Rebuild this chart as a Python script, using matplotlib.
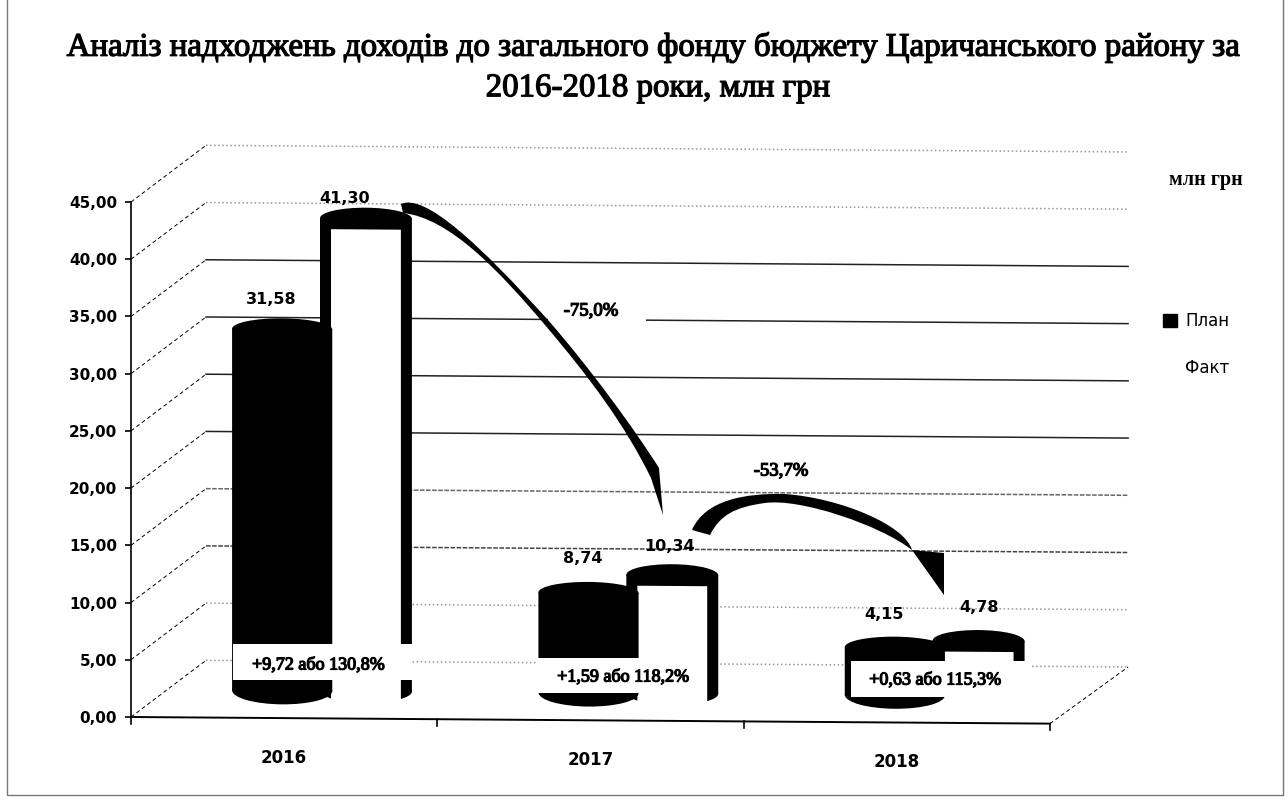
import numpy as np
import matplotlib
matplotlib.use("Agg")
import matplotlib.pyplot as plt
import matplotlib.patheffects as pe
from matplotlib.patches import Ellipse, PathPatch, Rectangle, Patch
from matplotlib.path import Path
from matplotlib.transforms import Affine2D

years = ["2016", "2017", "2018"]
plan = [31.58, 8.74, 4.15]
fact = [41.30, 10.34, 4.78]
plan_labels = ["31,58", "8,74", "4,15"]
fact_labels = ["41,30", "10,34", "4,78"]
diff_labels = ["+9,72 або 130,8%", "+1,59 або 118,2%", "+0,63 або 115,3%"]
yticks = [0, 5, 10, 15, 20, 25, 30, 35, 40, 45]

W, H = 1288, 801
X0, X1, Y0, Y45 = 131, 1050, 717, 202
SERIF = "Liberation Serif"
SANS = "DejaVu Sans"

fig = plt.figure(figsize=(W / 100, H / 100), dpi=100, facecolor="white")
ax = fig.add_axes([X0 / W, 1 - Y0 / H, (X1 - X0) / W, (Y0 - Y45) / H])
ax.set_xlim(0, 3)
ax.set_ylim(0, 45)
ax.patch.set_visible(False)

# scan is slightly tilted, everything inside the plot runs downhill to the right
k = 0.0072
sheared = ax.transData + Affine2D.from_values(1, -k, 0, 1, 0, k * X0)
# screen pixels, y going down, for things placed by hand
pix = Affine2D().scale(1, -1).translate(0, H)
thick = [pe.withStroke(linewidth=0.9, foreground="black")]

for s in ["top", "right", "bottom"]:
    ax.spines[s].set_visible(False)
ax.spines["left"].set_linewidth(1.2)
ax.set_xticks([])
ax.set_yticks(yticks)
ax.set_yticklabels([f"{v:.2f}".replace(".", ",") for v in yticks],
                   fontsize=11, fontweight="bold", family=SANS)
ax.tick_params(axis="y", length=4, width=1.2, pad=6)

# walls and gridlines
depth_x, depth_y = 0.245, 5
right_end = 3.255
grid_col = ["#999999", "#999999", "#444444", "#666666", "#222222", "#222222",
            "#222222", "#222222", "#999999", "#999999"]
grid_ls = [":", ":", (0, (3, 1)), (0, (3, 1)), "-", "-", "-", "-", ":", ":"]
for v, c, ls in zip(yticks, grid_col, grid_ls):
    ax.plot([0, depth_x], [v, v + depth_y], color="black", lw=0.7, ls=(0, (4, 3)),
            transform=sheared, clip_on=False, zorder=1)
    ax.plot([depth_x, right_end], [v + depth_y, v + depth_y], color=c, lw=1.1, ls=ls,
            transform=sheared, clip_on=False, zorder=1)
ax.plot([3, right_end], [0, depth_y], color="black", lw=0.7, ls=(0, (4, 3)),
        transform=sheared, clip_on=False, zorder=1)

# x axis
ax.plot([0, 3], [0, 0], color="black", lw=1.4, transform=sheared, clip_on=False, zorder=2)
for i in range(4):
    ax.plot([i, i], [0, -0.6], color="black", lw=1.2, transform=sheared, clip_on=False, zorder=2)
for i, y in enumerate(years):
    ax.text(i + 0.5, -3.45, y, ha="center", va="center", fontsize=12, fontweight="bold",
            family=SANS, transform=sheared)

# cylinders
base = 2.4
plan_start, plan_w = 0.33, 0.327
fact_start, fact_w = 0.617, 0.30
band = 0.036
cap_h = 1.9


def cap(x, w, y, z, h=cap_h):
    ax.add_patch(Ellipse((x + w / 2, y), w, h, color="black", lw=0, transform=sheared,
                         clip_on=False, zorder=z))


for i in range(3):
    x = i + fact_start
    ax.bar(x, fact[i], fact_w, bottom=base, align="edge", color="black", transform=sheared, zorder=3)
    # the bottom of the 2018 fact cylinder is lost in the scan
    if i < 2:
        cap(x, fact_w, base, 3, 2.0)
    cap(x, fact_w, base + fact[i], 3)
    # white inside stops flat under the cap
    ax.bar(x + band, fact[i] + 2 - cap_h / 2, fact_w - 2 * band, bottom=base - 2, align="edge",
           color="white", transform=sheared, zorder=3.1)

    x = i + plan_start
    ax.bar(x, plan[i], plan_w, bottom=base, align="edge", color="black", transform=sheared, zorder=4)
    cap(x, plan_w, base + plan[i], 4)
    cap(x, plan_w, base, 4, 2.4)

# white boxes under the differences: left, right, top and bottom in screen pixels
box_l = [233, 538, 851]
box_r = [412, 706, 1032]
box_t = [644, 658, 661]
box_b = [680, 693, 697]
box_text_x = [318, 623, 935]
box_text_y = [665, 677, 680]
for i in range(3):
    ax.add_patch(Rectangle((box_l[i], box_t[i]), box_r[i] - box_l[i], box_b[i] - box_t[i],
                           color="white", lw=0, transform=pix, zorder=5, clip_on=False))
    ax.text(box_text_x[i], box_text_y[i], diff_labels[i], ha="center", va="center", fontsize=13,
            family=SERIF, transform=pix, zorder=6, path_effects=thick)

# value labels
plan_dx = [-0.035, -0.02, -0.035]
plan_dy = [2.6, 3.0, 2.9]
fact_dx = [-0.07, -0.01, 0.0]
fact_dy = [1.75, 2.5, 2.9]
for i in range(3):
    ax.text(i + plan_start + plan_w / 2 + plan_dx[i], base + plan[i] + plan_dy[i], plan_labels[i],
            ha="center", va="center", fontsize=11.5, fontweight="bold", family=SANS,
            transform=sheared, zorder=7)
    ax.text(i + fact_start + fact_w / 2 + fact_dx[i], base + fact[i] + fact_dy[i], fact_labels[i],
            ha="center", va="center", fontsize=11.5, fontweight="bold", family=SANS,
            transform=sheared, zorder=7)

# curved arrows between the years
M, C, L, Z = Path.MOVETO, Path.CURVE4, Path.LINETO, Path.CLOSEPOLY
arrow1 = [(401, 204), (425, 193), (480, 245), (548, 320), (590, 368), (635, 430), (659, 468),
          (663, 515), (651, 478), (625, 425), (590, 378), (545, 325), (500, 272), (450, 218),
          (403, 213), (401, 204)]
codes1 = [M, C, C, C, C, C, C, L, L, C, C, C, C, C, C, Z]
arrow2 = [(692, 530), (705, 500), (745, 493), (785, 494), (840, 498), (905, 525), (912, 550),
          (944, 553), (944, 595), (912, 550), (880, 525), (800, 498), (765, 503), (735, 507),
          (720, 515), (710, 535), (692, 530)]
codes2 = [M, C, C, C, C, C, C, L, L, L, C, C, C, C, C, C, Z]
ax.add_patch(Rectangle((548, 300), 98, 30, color="white", lw=0, transform=pix, zorder=1.5, clip_on=False))
ax.add_patch(PathPatch(Path(arrow1, codes1), fc="black", ec="none", transform=pix, zorder=6, clip_on=False))
ax.add_patch(PathPatch(Path(arrow2, codes2), fc="black", ec="none", transform=pix, zorder=6, clip_on=False))
ax.text(591, 311, "-75,0%", ha="center", va="center", fontsize=13.5, family=SERIF,
        transform=pix, zorder=7, path_effects=thick)
ax.text(781, 471, "-53,7%", ha="center", va="center", fontsize=13.5, family=SERIF,
        transform=pix, zorder=7, path_effects=thick)

# title, unit, legend
ax.text(653, 47, "Аналіз надходжень доходів до загального фонду бюджету Царичанського району за",
        ha="center", va="center", fontsize=23.7, family=SERIF, transform=pix, path_effects=thick)
ax.text(658, 88, "2016-2018 роки, млн грн", ha="center", va="center", fontsize=23.7,
        family=SERIF, transform=pix, path_effects=thick)
ax.text(1206, 180, "млн грн", ha="center", va="center", fontsize=14.5, fontweight="bold",
        family=SERIF, transform=pix)

handles = [Patch(fc="black", ec="black", label="План"), Patch(fc="white", ec="white", label="Факт")]
fig.legend(handles=handles, frameon=False, loc="upper left", bbox_to_anchor=(1163 / W, 1 - 312 / H),
           prop={"family": SANS, "size": 12}, labelspacing=1.75, handlelength=0.85,
           handleheight=0.8, handletextpad=0.5, borderpad=0, borderaxespad=0)

# frame of the scanned chart
frame_x = [7, 7, 1283, 1283]
frame_y = [0, 795, 795, 0]
fig.add_artist(plt.Line2D(np.array(frame_x) / W, 1 - np.array(frame_y) / H, color="#777777", lw=1.0))

fig.savefig("out.png", dpi=100)
